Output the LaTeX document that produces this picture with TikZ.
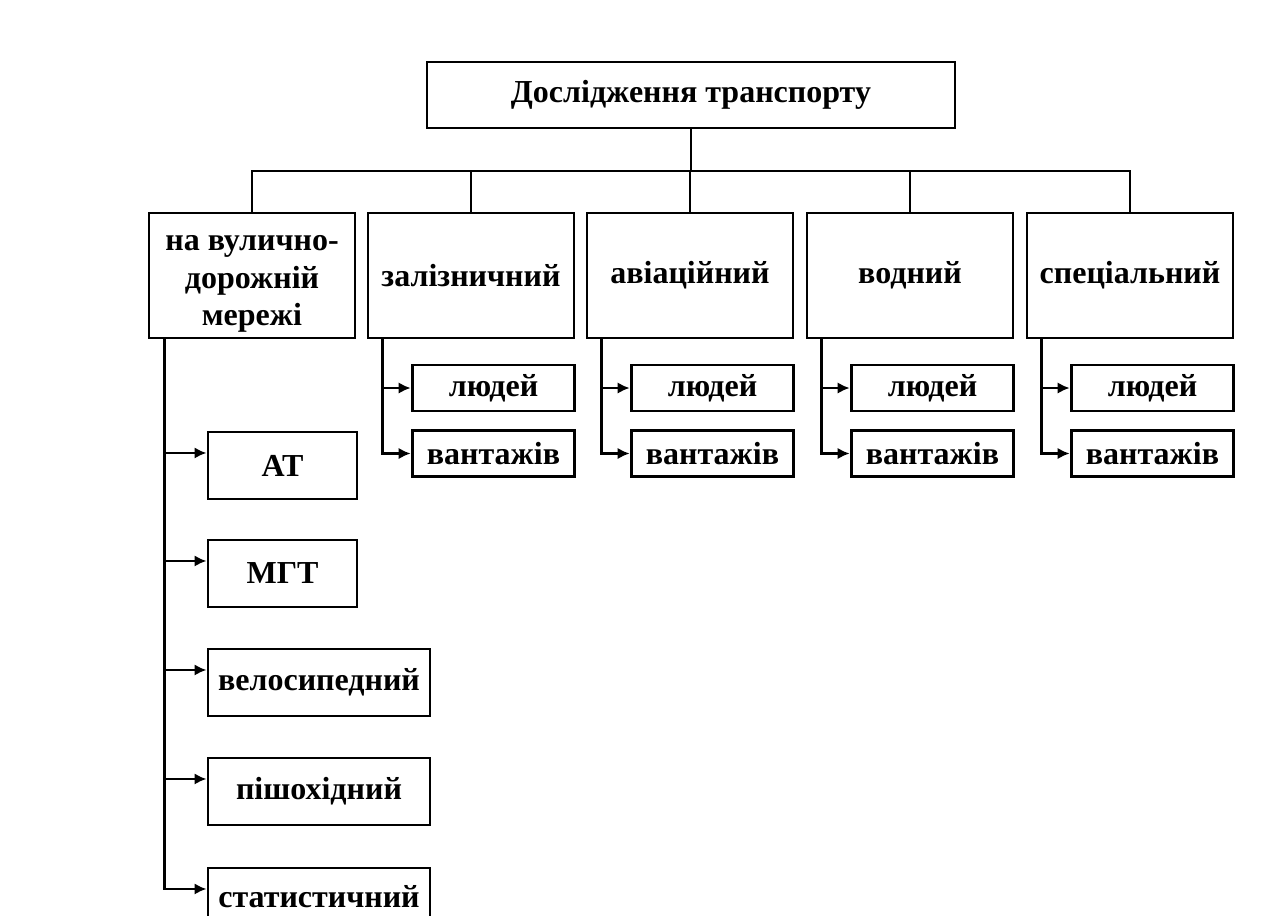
\documentclass[tikz,border=0pt]{standalone}
\usepackage{fontspec}
\setmainfont{Liberation Serif}
\usetikzlibrary{arrows.meta}
\begin{document}
\begin{tikzpicture}[x=0.75pt,y=-0.75pt,
  box/.style={draw, line width=2.2pt, fill=white, align=center, inner sep=0pt,
    font=\bfseries\fontsize{24}{28}\selectfont},
  rootbox/.style={box, minimum width=396pt, minimum height=49.5pt},
  kindbox/.style={box, minimum width=154.5pt, minimum height=93.75pt},
  loadbox/.style={box, minimum width=122pt, minimum height=34.5pt},
  modebox/.style={box, minimum width=111.75pt, minimum height=50.25pt},
  widebox/.style={box, minimum width=166.5pt, minimum height=50.25pt},
  link/.style={line width=1.8pt},
  arr/.style={link, -{Latex[length=9pt,width=8.5pt]}}]
\useasboundingbox (0,0) rectangle (1279,915);
\clip (0,0) rectangle (1279,915);

% root
\node[rootbox] (root) at (691,95) {Дослідження транспорту};

% kinds of transport
\node[kindbox] (b1) at (252,275.5)
  {\raisebox{-4pt}[\height][\depth]{\begin{tabular}{@{}c@{}}на вулично-\\дорожній\\мережі\end{tabular}}};
\node[kindbox] (b2) at (471,275.5) {залізничний};
\node[kindbox] (b3) at (690,275.5) {авіаційний};
\node[kindbox] (b4) at (910,275.5) {водний};
\node[kindbox] (b5) at (1130,275.5) {спеціальний};

% passengers / freight
\foreach \b/\x in {b2/471,b3/690,b4/910,b5/1130}{
  \node[loadbox] (\b p) at (\x+22.5,388) {людей};
  \node[loadbox] (\b g) at (\x+22.5,453.5) {вантажів};
}

% street network modes
\node[modebox] (at)  at (282.5,465.5) {АТ};
\node[modebox] (mgt) at (282.5,573.5) {МГТ};
\node[widebox] (bike) at (319,682.5) {велосипедний};
\node[widebox] (walk) at (319,791.5) {пішохідний};
\node[widebox] (stat) at (319,901.5) {\raisebox{4pt}[\height][0pt]{статистичний}};

% tree from the root
\coordinate (bar) at (691,171);
\draw[link] (root.south) -- (bar);
\draw[link] (b1.north) |- (bar) -| (b5.north);
\foreach \b in {b2,b3,b4}
  \draw[link] (\b.north) -- (\b.north |- bar);

% branches to passengers / freight
\foreach \b in {b2,b3,b4,b5}{
  \draw[arr] ([xshift=12pt]\b.south west) |- (\b p.west);
  \draw[arr] ([xshift=12pt]\b.south west) |- (\b g.west);
}

% branches to street network modes
\foreach \m in {at,mgt,bike,walk,stat}
  \draw[arr] ([xshift=12.75pt]b1.south west) |- ([yshift=9.4pt]\m.west);
\end{tikzpicture}
\end{document}
